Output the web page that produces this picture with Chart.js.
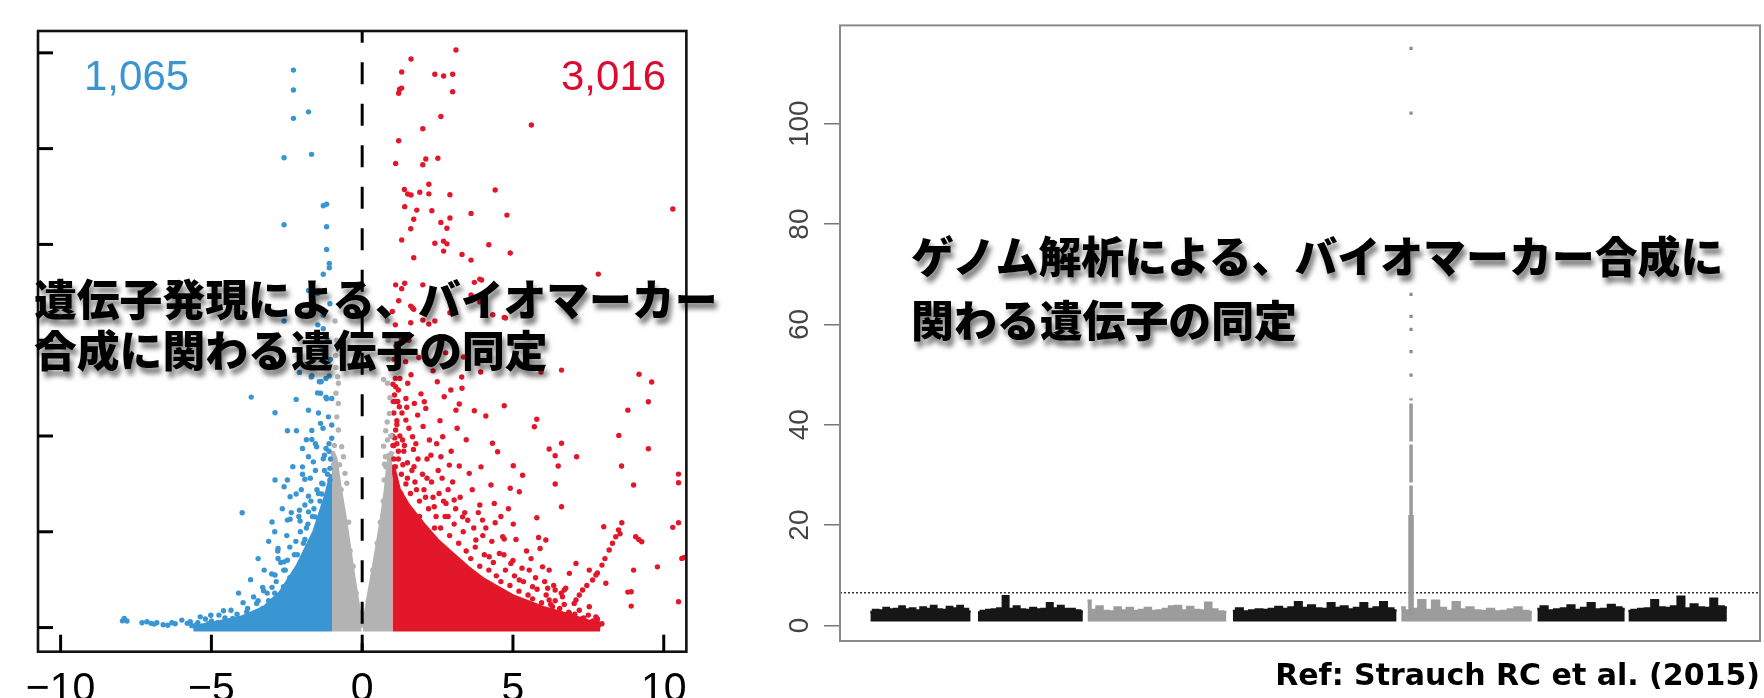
<!DOCTYPE html>
<html lang="ja">
<head>
<meta charset="utf-8">
<title>volcano + manhattan</title>
<script src="https://cdn.jsdelivr.net/npm/chart.js@4.4.1/dist/chart.umd.min.js"></script>
<style>
  html, body { margin: 0; padding: 0; background: #fff; }
  #page { position: relative; width: 1764px; height: 698px; overflow: hidden; }
  #leftWrap { position: absolute; left: 0; top: 0; width: 700px; height: 698px; overflow: hidden; }
  #rightWrap { position: absolute; left: 700px; top: 0; width: 1064px; height: 698px; }
  .count { position: absolute; top: 55px; font-family: "Liberation Sans", Arial, sans-serif; font-size: 42px; line-height: 42px; }
  .jp { position: absolute; font-family: "Noto Sans CJK JP", sans-serif; font-weight: 900; color: #000; white-space: nowrap;
        text-shadow: 3px 6px 5px rgba(0,0,0,0.5); }
  #ref { position: absolute; right: 4px; top: 657px; font-family: "DejaVu Sans", Verdana, sans-serif; font-weight: bold;
         font-size: 30px; line-height: 36px; color: #000; white-space: nowrap; }
</style>
</head>
<body>
<div id="page">
  <div id="leftWrap"><canvas id="volcano" width="700" height="740"></canvas></div>
  <div id="rightWrap"><canvas id="manhattan" width="1064" height="698"></canvas></div>
  <div class="count" id="cDown" style="left:84px;color:#3B95D0"></div>
  <div class="count" id="cUp" style="left:561px;color:#DC0A2E"></div>
  <div class="jp" style="left:34px;top:272px;font-size:42.8px;line-height:51px">遺伝子発現による、バイオマーカー<br>合成に関わる遺伝子の同定</div>
  <div class="jp" style="left:911px;top:223px;font-size:42.9px;line-height:63.5px">ゲノム解析による、バイオマーカー合成に<br>関わる遺伝子の同定</div>
  <div id="ref">Ref: Strauch RC et al. (2015)</div>
</div>
<script>
// ---- volcano plot (log2 FC vs -log10 p, y labels not shown in the figure) ----
var countDown = '1,065'
var countUp = '3,016'

var redPts = [
  [3.11,301.5],[1.62,296.8],[1.31,290],[2.41,288.8],[2.70,287.9],[3.00,288.8],[1.31,281.6],[1.24,281],[1.21,278.9],[3.00,279.7],
  [2.61,266.8],[2.01,260.4],[5.61,262.3],[1.21,254.1],[2.11,244.6],[2.51,245],[2.01,241.6],[1.11,242.3],[1.40,228.7],[1.51,226.3],
  [1.62,225.8],[1.91,227.2],[2.21,231.4],[2.21,226.4],[2.91,225.9],[4.41,228.4],[1.41,219.7],[1.81,217.9],[2.31,217.6],[3.61,216.2],
  [4.80,215.3],[10.30,218.5],[1.71,213.1],[1.61,208.2],[2.61,211.5],[2.91,213.8],[2.81,208.4],[1.31,202.3],[2.41,200.6],[2.70,201.7],
  [2.81,200.3],[2.70,196.5],[1.71,193],[3.31,194.8],[3.61,191.8],[4.20,199.8],[4.91,195.5],[7.83,184.5],[1.11,178.9],[1.41,179.7],
  [1.31,176.9],[2.01,178.9],[3.72,180.2],[3.90,181.9],[1.21,170.6],[1.61,167.8],[1.71,166.1],[3.61,173.6],[3.90,170.1],[2.91,164.3],
  [2.21,158.4],[2.01,160.5],[2.41,160],[1.61,159.1],[4.71,161.9],
  [1.67,166.8],[3.0,164.4],[3.96,181.4],[4.33,163.3],[4.75,161.6],[5.93,133.4],[3.93,133.4],[2.49,128.3],[3.30,130.8],[1.30,150.4],
  [2.19,148],[2.77,143.4],[1.44,138.8],[3.36,141.2],
  [6.61,134.4],[9.18,132.2],[9.60,128.2],[9.49,117.9],[8.81,113.5],[8.51,100.3],[9.49,93.3],[8.60,84.3],[9.0,74.4],[10.49,80.1],
  [10.49,75.6],[10.49,54.7],[10.30,52.3],[10.68,36.6],[10.60,36.1],[10.49,13.5],[9.79,31.7],[9.0,30],[8.92,18.7],[8.92,11.2],[8.81,18.5],
  [7.09,14.4],[7.2,17],[7.31,19.6],[7.45,22],[7.64,24.8],[7.8,28.5],[7.95,32.6],[8.05,36],[8.19,40.5],[8.3,44],[8.41,47.4],[8.5,51],
  [8.55,49],[8.61,54.7],[9.07,47.4],[9.17,46],[9.27,44.8],
  [4.71,115.8],[3.72,113.2],[4.10,110.4],[5.79,108.7],[5.71,104.8],[6.20,93.2],[6.40,89.7],[6.61,96.2],[7.11,89.2],[6.50,84.3],
  [6.40,74.9],[6.61,63.1],[5.01,84.5],[5.32,79.5],[4.91,72.7],[5.21,70.9],[5.01,54],[5.79,57.3],[6.09,45.7],[5.90,41.3],[4.71,46.2],
  [8.01,52.6],[7.09,33.5],[6.75,20.5],[6.70,19.6],[6.40,19.6],[6.20,14.4],[6.87,28.3],[7.53,30],[7.75,27.4],[8.08,23.1],[7.80,2.5],
  [7.60,2.5],[7.16,2.2],[6.78,1.8],
  [1.11,125.7],[1.51,127.5],[1.07,121.4],[1.45,119.6],[1.23,115.3],[1.73,117],[2.06,117.9],[2.11,114.4],[1.84,110.9],[1.45,108.3],
  [1.11,103.1],[1.34,97.9],[1.67,99.6],[2.23,97.9],[2.67,99.6],[2.72,120.5],[2.94,124],[3.31,124.9],[3.22,116.7],[3.11,113.5],
  [2.61,89.2],[2.89,84.8],[3.22,84.3],[3.55,80.5],[3.94,83.9],[4.32,96.2],[4.49,91.8],[4.27,74.4],[4.38,64.8],[3.99,56.1],[4.41,54.7],
  [4.66,47.4],[3.33,57.8],[3.05,66.6],[2.78,64.8],[2.39,63.1],[3.77,45.7],[4.21,37],[4.55,38.7],[4.93,33.5],[5.54,30],[5.98,31.7],
  [5.21,24.8],[5.65,21.3],[6.15,20.5],[6.64,16.1],[7.03,12.6],[7.53,10.9],[7.75,5.6],[6.31,10.9],[6.87,7.4],[7.31,4.8],
  [1.05,88],[1.2,92],[1.35,85],[1.5,78],[1.8,72],[2.1,68],[1.15,108],[1.0,100],[1.25,130],[1.05,140],[1.1,158],[1.0,165],
  [1.02,95],[1.08,99],[1.15,106],[1.05,112],[1.18,118],[1.03,118],[1.1,130],[1.02,127],[1.2,124],
  // crowded zone just above the solid part
  [1.05,95],[1.2,88],[1.3,80],[1.45,75],[1.1,84],[1.38,92],[1.25,100],[1.5,86],[1.15,96],
  [1.6,70],[1.75,76],[1.9,66],[2.05,72],[2.2,62],[2.35,68],[2.45,58],[1.65,82],[1.85,88],[2.0,80],[2.3,76],[1.7,93],[2.15,88],
  [2.6,52],[2.75,58],[2.9,48],[3.05,54],[3.2,44],[3.35,50],[3.45,40],[2.55,70],[2.85,72],[3.1,62],[3.4,60],[2.65,78],
  [3.6,36],[3.75,42],[3.9,32],[4.05,38],[4.2,30],[4.35,34],[4.45,27],[3.7,52],[4.0,48],[4.3,45],[3.85,60],
  [4.6,24],[4.75,30],[4.9,22],[5.05,27],[5.2,19],[5.35,24],[5.5,17],[4.7,38],[5.0,35],[5.3,31],[5.45,40],
  [5.65,15],[5.8,20],[5.95,13],[6.1,17],[6.25,12],[6.4,14],[6.55,10],[6.7,12],[6.85,8],[5.75,26],[6.05,24],[6.35,22],[6.6,18],
  [7.05,7],[7.2,9],[7.35,5],[7.5,6.5],[7.65,3.5],[7.8,4.5],[7.95,2],
  [1.08,118],[1.32,112],[1.55,104],[1.78,96],[2.02,105],[2.28,90],[2.52,82],[2.47,96],[1.95,122],[1.62,132],[1.4,95],[1.28,70],
  [1.9,58],[2.15,78],[2.4,52],[2.7,66],[3.0,76],[3.25,68],[3.5,56],[3.65,72],[3.9,64],[2.95,92],[3.45,98],[1.72,84],[1.22,62],
  [2.58,108],[3.15,104],[1.48,115],[2.85,58],[4.1,52],[4.6,58],[5.1,46],[5.6,36],[6.2,30],[5.85,47],[4.85,62],[2.35,134],
  [1.88,141],[1.55,150],[1.12,147]
]

var bluePts = [
  [-2.28,291],[-2.28,280.6],[-2.28,265.8],[-1.78,269.2],[-2.59,245.2],[-1.68,247],[-1.29,220.2],[-1.18,221],[-2.59,210.3],[-1.18,209.2],
  [-1.18,197.4],[-1.09,190],[-1.09,187.8],[-1.29,184.4],[-1.78,176],[-1.47,174.5],[-1.07,169],[-2.59,160],[-1.47,158],[-1.29,156],[-1.29,163],
  [-1.35,145],[-1.15,150],[-1.69,130.8],[-1.36,128.3],[-1.09,131.3],[-1.48,122.5],[-1.18,119.4],
  [-3.68,120.3],[-2.19,119.1],[-2.89,112.1],[-1.78,113.5],[-2.08,133.2],[-1.67,131.4],[-1.42,128.3],[-1.38,122.3],[-1.20,120.2],[-1.01,119.6],
  [-2.48,102.7],[-2.18,102.7],[-1.67,102.9],[-1.38,106.6],[-1.01,105.7],[-1.67,98.2],[-1.01,98.8],[-1.98,93.5],[-1.51,94.4],[-1.20,93.5],
  [-1.78,89.2],[-1.62,86.5],[-1.29,88.1],[-1.07,83.1],[-1.98,83.9],[-1.98,80],[-2.89,77],[-2.48,77],[-2.59,73.5],[-1.90,77.4],[-1.34,75.3],
  [-1.07,77],[-2.39,68.3],[-2.19,69.7],[-1.78,68.6],[-1.34,69.7],[-3.98,59.9],[-2.99,55.1],[-2.48,56.1],[-2.39,56.6],[-2.08,61.3],[-2.06,55.6],
  [-1.78,60.4],[-1.56,57.8],[-2.79,41.3],[-2.79,36.1],[-2.59,34.3],[-2.48,35.2],[-2.89,27.4],[-3.27,19.2],[-2.99,21],[-2.61,21.3],[-3.5,12.6],
  [-2.99,10.9],[-3.83,8.2],[-4.29,4.8],[-4.60,8.8],[-5.02,6.4],[-5.37,5.6],[-5.98,3.9],[-6.31,2.5],[-6.81,2.5],[-7.14,3],[-7.89,4.8],
  [-7.80,3.4],[-7.95,3.5],[-7.3,2.5],[-6.9,1.8],[-6.6,1.5],[-6.2,2],[-5.8,2.2],[-5.5,1.5],[-5.1,2],[-4.8,2.5],[-4.4,1.8],[-4.0,2.5],
  [-3.7,2],[-7.0,2.2],[-6.45,1.2],[-5.65,1.0],[-4.95,1.2],[-4.2,1.0],[-3.45,4.5],[-3.2,6.5],[-3.6,5],[-2.7,15],[-2.3,22],[-2.0,32],
  [-1.75,40],[-1.5,50],[-3.3,10],[-2.2,45],[-1.85,52],[-2.4,26],[-2.6,30],[-2.9,18],[-3.1,14],[-3.4,8],[-3.9,4],[-2.15,38],[-1.9,46],
  [-1.6,62],[-1.45,70],[-1.25,82],[-1.1,92],
  // crowded zone just above the solid part
  [-1.05,88],[-1.15,80],[-1.3,75],[-1.1,96],[-1.25,90],[-1.4,66],[-1.5,72],[-1.65,58],[-1.8,54],[-1.7,66],[-1.95,44],[-2.05,50],
  [-2.25,38],[-2.4,42],[-2.55,30],[-2.7,34],[-2.85,24],[-3.0,28],[-3.15,18],[-3.3,21],[-3.45,14],[-3.6,16],[-3.8,10],[-3.95,13],
  [-4.15,7],[-4.35,9],[-4.55,5],[-4.75,6.5],[-5.0,3.5],[-5.2,4.5],[-5.45,2.5],[-5.7,3],[-2.1,58],[-2.5,48],[-1.55,82],[-1.9,64],
  [-2.8,40],[-3.25,30],
  [-1.12,110],[-1.3,104],[-1.55,96],[-1.85,98],[-2.3,84],[-2.65,62],[-1.45,112],[-1.72,78],[-2.02,72],[-2.35,60],[-1.2,130],
  [-3.1,45],[-3.45,36],[-2.9,50],[-3.7,25],[-4.1,18],[-1.05,140],[-1.6,140]
]

var grayPts = [
  [-0.87,135.8],[-0.81,130.9],[-0.79,127.5],[-0.87,122.3],[-0.79,117],[-0.84,110],[-0.79,103.1],[-0.68,94.4],[-0.62,89.2],[-0.57,80.5],
  [-0.51,75.3],[-0.9,160],[-0.85,150],[-0.88,142],[-0.92,95],[-0.95,85],[-0.75,85],[-0.7,72],[-0.45,55],[-0.4,40],[-0.3,32],[-0.2,18],[-0.12,8],
  [0.84,127.5],[0.90,111.8],[0.84,97.9],[0.77,89.2],[0.79,83.9],[0.73,77],[0.83,160],[0.86,150],[0.88,140],[0.92,120],[0.95,100],[0.9,90],
  [0.71,94.7],[0.74,85.3],[0.78,102.7],[0.83,107.3],[0.71,129.5],[0.7,66],[0.6,55],[0.5,44],[0.35,30],[0.2,14],[0.12,7]
]

// outlines of the solid (overplotted) parts
var redDense = [[1.0,85],[1.2,72],[1.5,64],[2.0,54],[2.5,45],[3.0,38],[3.5,31],[4.0,25],[5.0,16],[6.0,10],[7.0,5.5],[7.6,2.5],[7.9,0]]
var blueDense = [[-5.6,0],[-4.9,2],[-4.0,5],[-3.25,10],[-2.7,18],[-2.13,32],[-1.57,50],[-1.2,68],[-1.0,80]]
var grayDenseL = [[-1.0,92],[-0.9,88],[-0.75,72],[-0.6,58],[-0.45,42],[-0.3,26],[-0.15,11],[-0.07,3],[-0.02,0]]
var grayDenseR = [[0.02,0],[0.1,4],[0.25,18],[0.45,36],[0.65,55],[0.8,72],[0.9,88],[1.0,92]]

// ---- manhattan plot (x = genome position, % of total) ----
var chrStart = [3.3, 15.0, 26.9, 42.7, 61.0, 75.8, 85.7]
var chrEnd = [14.2, 26.4, 42.0, 60.5, 75.2, 85.3, 96.4]
var chrHeights = [
  [2.7,3.1,3.0,3.5,3.2,3.3,3.8,3.2,3.4,3.0,3.6,3.3,3.9,3.2,3.1,3.7,3.4,3.9,3.3,2.8],
  [2.6,2.9,3.1,3.2,3.4,5.8,3.3,3.8,3.2,3.1,3.5,3.2,3.3,4.4,3.4,3.9,3.3,3.3,3.0,2.8],
  [4.9,3.1,3.8,2.9,2.8,3.6,3.0,3.5,2.9,3.1,3.5,2.9,3.0,3.3,3.8,3.9,3.0,3.7,3.1,3.0,4.5,3.2,2.8,2.7],
  [2.9,3.4,2.8,3.0,3.2,3.1,3.3,3.7,3.3,3.6,4.6,3.5,4.0,3.4,3.3,4.4,3.5,3.8,3.2,3.5,4.4,3.3,3.6,4.6,3.4,3.0],
  [3.6,3.0,3.3,5.0,3.1,4.9,3.5,2.9,4.6,3.2,3.6,3.0,2.9,3.3,2.8,2.9,3.2,3.6,2.9,2.7],
  [3.3,3.8,3.0,3.2,3.4,4.0,3.1,3.5,4.4,3.2,3.3,4.1,3.6,3.3],
  [2.9,3.1,3.3,3.4,5.0,3.6,3.5,3.8,5.7,3.4,4.2,3.6,3.5,5.3,3.8,3.6]
]
var bandFloor = 0.8
var peakPos = 62.07
var peakSpan = [4, 45.3]
var peakBase = [2, 22]
var peakPts = [49.9, 54.6, 59.0, 61.6, 66.0, 102.1, 115.0]
var threshold = 6.5

var segColors = ['#161616', '#161616', '#9c9c9c', '#161616', '#9c9c9c', '#161616', '#161616']

function toXY(arr) {
  return arr.map(function (p) { return { x: p[0], y: p[1] } })
}

var framePlugin = {
  id: 'frame',
  afterDraw: function (chart, args, opts) {
    var a = chart.chartArea, ctx = chart.ctx
    ctx.save()
    ctx.strokeStyle = opts.color
    ctx.lineWidth = opts.width
    ctx.strokeRect(a.left, a.top, a.right - a.left, a.bottom - a.top)
    ctx.restore()
  }
}

// R style ticks drawn inside the box
var innerTicks = {
  id: 'innerTicks',
  afterDraw: function (chart) {
    var a = chart.chartArea, ctx = chart.ctx, sx = chart.scales.x, sy = chart.scales.y
    ctx.save()
    ctx.strokeStyle = '#000'
    ctx.lineWidth = 3
    sx.ticks.forEach(function (t) {
      var px = sx.getPixelForValue(t.value)
      ctx.beginPath(); ctx.moveTo(px, a.bottom); ctx.lineTo(px, a.bottom - 17); ctx.stroke()
    })
    sy.ticks.forEach(function (t) {
      var py = sy.getPixelForValue(t.value)
      ctx.beginPath(); ctx.moveTo(a.left, py); ctx.lineTo(a.left + 15, py); ctx.stroke()
    })
    ctx.restore()
  }
}

document.getElementById('cDown').textContent = countDown
document.getElementById('cUp').textContent = countUp

function denseSet(pts, color) {
  return {
    data: toXY(pts), showLine: true, fill: { value: -2 }, backgroundColor: color, borderColor: color,
    borderWidth: 5, borderJoinStyle: 'round', pointRadius: 0, order: 5
  }
}
function dotSet(pts, color) {
  return {
    data: toXY(pts), showLine: false, pointRadius: 2.7, pointBorderWidth: 0,
    pointBackgroundColor: color, backgroundColor: color, order: 2
  }
}

var red = '#E2172A', blue = '#3A96D3', grey = '#B3B3B3'

new Chart(document.getElementById('volcano').getContext('2d'), {
  type: 'line',
  data: {
    datasets: [
      denseSet(grayDenseL, grey), denseSet(grayDenseR, grey), denseSet(blueDense, blue), denseSet(redDense, red),
      dotSet(grayPts, grey), dotSet(bluePts, blue), dotSet(redPts, red),
      {
        data: [{ x: 0, y: 311.4 }, { x: 0, y: -12.6 }], showLine: true, fill: false, borderColor: '#000',
        borderWidth: 3, borderDash: [22, 19.5], borderDashOffset: 10.3, pointRadius: 0, order: 0
      }
    ]
  },
  options: {
    responsive: false, animation: false,
    layout: { padding: { left: 38, top: 31, right: 13, bottom: 0 } },
    plugins: { legend: { display: false }, tooltip: { enabled: false }, frame: { color: '#111', width: 2.6 } },
    scales: {
      x: {
        type: 'linear', min: -10.75, max: 10.75,
        grid: { display: false, drawTicks: false }, border: { display: false },
        ticks: {
          stepSize: 5, includeBounds: false, padding: 13, color: '#000', maxRotation: 0,
          font: { family: 'Liberation Sans', size: 41 },
          callback: function (v) { return v < 0 ? '\u2212' + Math.abs(v) : String(v) }
        },
        afterFit: function (s) { s.height = 88.3 }
      },
      y: {
        type: 'linear', min: -12.6, max: 311.4,
        grid: { display: false, drawTicks: false }, border: { display: false },
        ticks: { display: false, stepSize: 50, includeBounds: false },
        afterFit: function (s) { s.width = 0 }
      }
    }
  },
  plugins: [framePlugin, innerTicks]
})

var mDatasets = chrHeights.map(function (h, i) {
  var n = h.length
  return {
    data: h.map(function (v, j) { return { x: chrStart[i] + (chrEnd[i] - chrStart[i]) * j / (n - 1), y: v } }),
    showLine: true, stepped: 'middle', fill: { value: bandFloor },
    backgroundColor: segColors[i], borderColor: segColors[i], borderWidth: 2.5, pointRadius: 0, order: 4
  }
})
mDatasets.push({
  data: [{ x: peakPos, y: peakSpan[0] }, { x: peakPos, y: peakSpan[1] }], showLine: true, fill: false,
  borderColor: '#9a9a9a', borderWidth: 3.5, borderDash: [38, 3], pointRadius: 0, order: 2
})
mDatasets.push({
  data: [{ x: peakPos, y: peakBase[0] }, { x: peakPos, y: peakBase[1] }], showLine: true, fill: false,
  borderColor: '#999', borderWidth: 5.5, pointRadius: 0, order: 2
})
mDatasets.push({
  data: peakPts.map(function (v) { return { x: peakPos, y: v } }), showLine: false,
  pointStyle: 'rect', pointRadius: 2.3, pointBorderWidth: 0, pointBackgroundColor: '#8e8e8e', order: 1
})
mDatasets.push({
  data: [{ x: 0, y: threshold }, { x: 100, y: threshold }], showLine: true, fill: false,
  borderColor: '#333', borderWidth: 1.5, borderDash: [2, 2], pointRadius: 0, order: 3
})

new Chart(document.getElementById('manhattan').getContext('2d'), {
  type: 'line',
  data: { datasets: mDatasets },
  options: {
    responsive: false, animation: false,
    layout: { padding: { left: 0, top: 25.4, right: 3, bottom: 57 } },
    plugins: { legend: { display: false }, tooltip: { enabled: false }, frame: { color: '#8a8a8a', width: 2 } },
    scales: {
      x: { type: 'linear', min: 0, max: 100, display: false },
      y: {
        type: 'linear', min: -3.1, max: 119.6,
        grid: { display: true, drawOnChartArea: false, drawTicks: true, tickLength: 16, color: '#777', lineWidth: 1.5 },
        border: { display: false },
        ticks: {
          stepSize: 20, includeBounds: false, minRotation: 90, maxRotation: 90, crossAlign: 'center',
          padding: 0, color: '#444', font: { family: 'Liberation Sans', size: 28 }
        },
        afterFit: function (s) { s.width = 140 }
      }
    }
  },
  plugins: [framePlugin]
})
</script>
</body>
</html>
